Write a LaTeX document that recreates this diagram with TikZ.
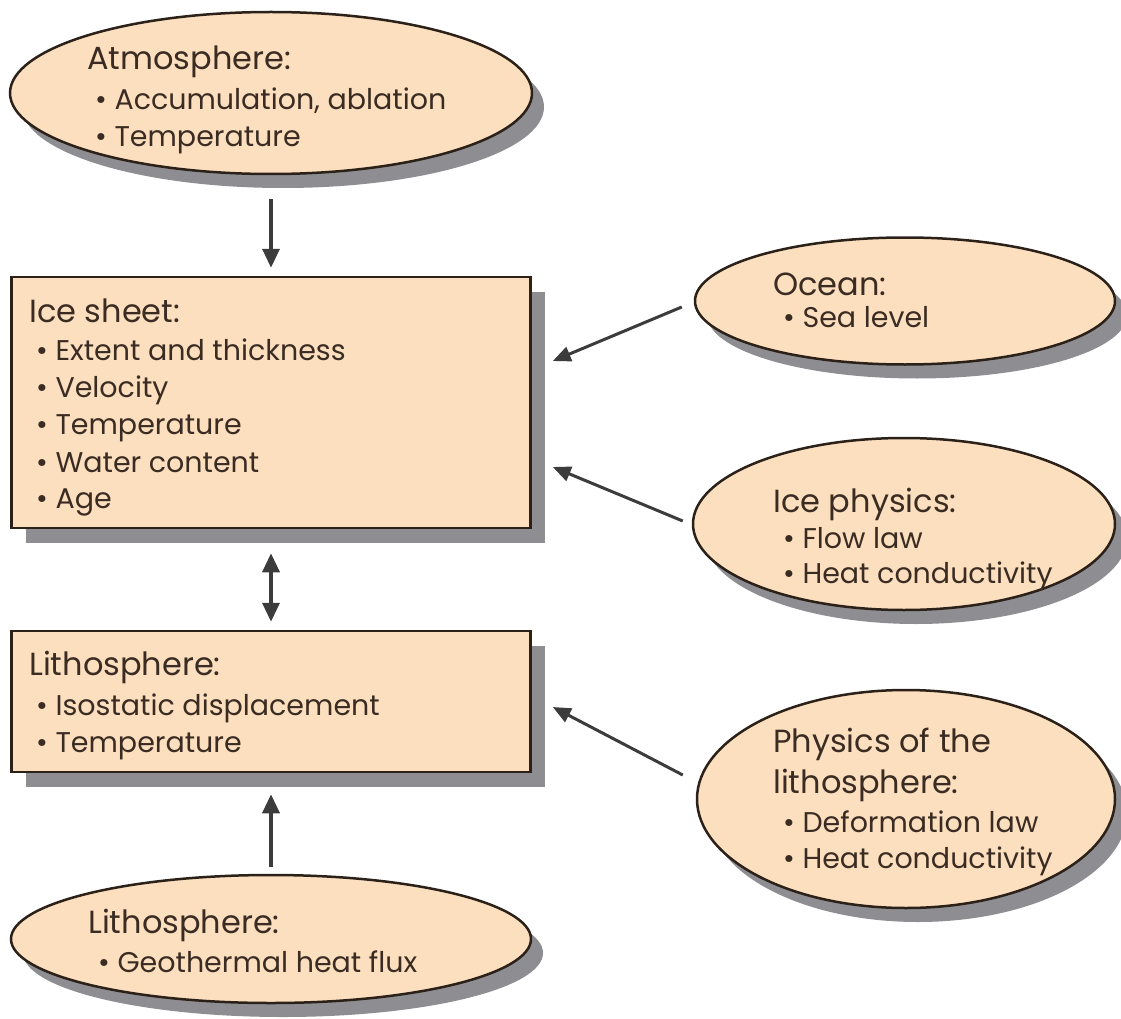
\documentclass[tikz,border=0pt]{standalone}
\usepackage{fontspec}
\setmainfont{Poppins}
\usetikzlibrary{shapes.geometric,shadows,arrows.meta,calc}
\definecolor{peach}{HTML}{FCDFBF}
\definecolor{edgec}{HTML}{2B2118}
\definecolor{shade}{HTML}{8E8E92}
\definecolor{ink}{HTML}{3A2C22}
\definecolor{arrowc}{HTML}{3C3C3C}
\begin{document}
\begin{tikzpicture}[x=1pt,y=-1pt,
  blob/.style={ellipse, draw=edgec, line width=2.5pt, fill=peach, inner sep=0pt,
    drop shadow={shadow xshift=12pt, shadow yshift=-14pt, fill=shade, opacity=1}},
  panel/.style={rectangle, draw=edgec, line width=2.5pt, fill=peach, inner sep=0pt,
    drop shadow={shadow xshift=14pt, shadow yshift=-15pt, fill=shade, opacity=1}},
  ttl/.style={anchor=base west, inner sep=0pt, text=ink, font=\fontsize{32}{38}\selectfont},
  itm/.style={anchor=base west, inner sep=0pt, text=ink, font=\fontsize{28.5}{34}\selectfont},
  arr/.style={draw=arrowc, line width=3.5pt, -{Triangle[width=17pt,length=19pt]}},
  darr/.style={draw=arrowc, line width=3.5pt, {Triangle[width=17pt,length=19pt]}-{Triangle[width=17pt,length=19pt]}},
  diag/.style={draw=arrowc, line width=3pt, -{Triangle[width=15pt,length=18pt]}}
]
\useasboundingbox (0,0) rectangle (1121,1019);

% shapes
\node[blob, minimum width=522pt, minimum height=162pt] (atm) at (271,93) {};
\node[panel, minimum width=519pt, minimum height=251pt] (ice) at (271,402.5) {};
\node[panel, minimum width=519pt, minimum height=141pt] (litho) at (271,701.5) {};
\node[blob, minimum width=520pt, minimum height=128pt] (geo) at (271,939) {};
\node[blob, minimum width=420pt, minimum height=127pt] (ocean) at (905,301) {};
\node[blob, minimum width=422pt, minimum height=172pt] (iphys) at (904,524) {};
\node[blob, minimum width=418pt, minimum height=218pt] (lphys) at (906,799) {};

% texts
\node[ttl] (atmT) at (87,70) {Atmosphere:};
\node[itm] (atm1) at (95,110) {\textbullet\ Accumulation, ablation};
\node[itm] (atm2) at (95,147) {\textbullet\ Temperature};

\node[ttl] (iceT) at (29,322) {Ice sheet:};
\node[itm] (ice1) at (36,360) {\textbullet\ Extent and thickness};
\node[itm] (ice2) at (36,397) {\textbullet\ Velocity};
\node[itm] (ice3) at (36,434) {\textbullet\ Temperature};
\node[itm] (ice4) at (36,472) {\textbullet\ Water content};
\node[itm] (ice5) at (36,508) {\textbullet\ Age};

\node[ttl] (litT) at (29,675) {Lithosphere:};
\node[itm] (lit1) at (36,715) {\textbullet\ Isostatic displacement};
\node[itm] (lit2) at (36,752) {\textbullet\ Temperature};

\node[ttl] (geoT) at (88,933) {Lithosphere:};
\node[itm] (geo1) at (98,972) {\textbullet\ Geothermal heat flux};

\node[ttl] (ocT) at (773,295) {Ocean:};
\node[itm] (oc1) at (783,327) {\textbullet\ Sea level};

\node[ttl] (ipT) at (773,512) {Ice physics:};
\node[itm] (ip1) at (783,548) {\textbullet\ Flow law};
\node[itm] (ip2) at (783,583) {\textbullet\ Heat conductivity};

\node[ttl] (lpT) at (773,752) {Physics of the};
\node[ttl] (lpT2) at (773,793) {lithosphere:};
\node[itm] (lp1) at (783,832) {\textbullet\ Deformation law};
\node[itm] (lp2) at (783,868) {\textbullet\ Heat conductivity};

% connectors
\draw[arr, shorten <=24pt, shorten >=8pt] (atm.south) -- (ice.north);
\draw[darr, shorten <=24pt, shorten >=8pt] (ice.south) -- (litho.north);
\draw[arr, shorten <=7pt, shorten >=21pt] (geo.north) -- (litho.south);
\draw[diag] ($(ocean.west)+(-12,6)$) -- ($(ice.east)+(21,-41.5)$);
\draw[diag] ($(iphys.west)+(-9,-3)$) -- ($(ice.east)+(21,64.5)$);
\draw[diag] ($(lphys.west)+(-13,-24)$) -- ($(litho.east)+(21,5.5)$);
\end{tikzpicture}
\end{document}
